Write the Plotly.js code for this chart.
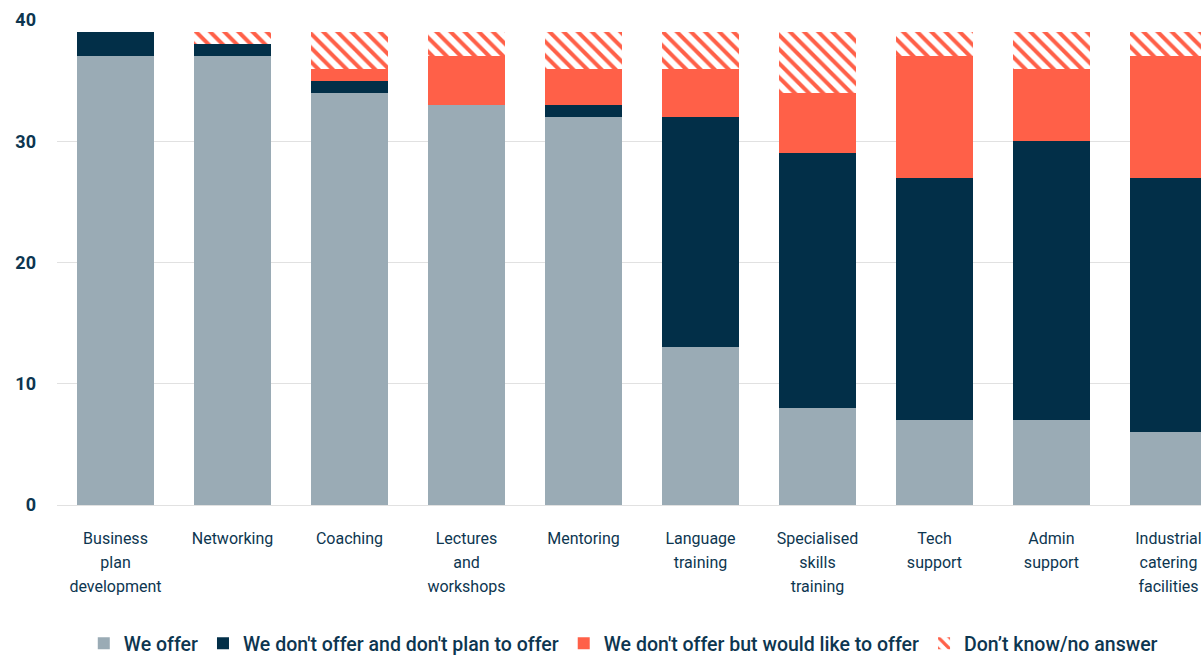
<!DOCTYPE html>
<html>
<head>
<meta charset="utf-8">
<script src="https://cdn.plot.ly/plotly-3.0.1.min.js"></script>
<style>
html,body{margin:0;padding:0;background:#fff;overflow:hidden;width:1201px;height:656px;}
#chart{width:1201px;height:663px;}
</style>
</head>
<body>
<div id="chart"></div>
<script>
// ---- data ----
const categories = ["Business<br>plan<br>development", "Networking", "Coaching", "Lectures<br>and<br>workshops", "Mentoring", "Language<br>training", "Specialised<br>skills<br>training", "Tech<br>support", "Admin<br>support", "Industrial<br>catering<br>facilities"];
const weOffer       = [37, 37, 34, 33, 32, 13, 8, 7, 7, 6];
const dontPlan      = [2, 1, 1, 0, 1, 19, 21, 20, 23, 21];
const wouldLike     = [0, 0, 1, 4, 3, 4, 5, 10, 6, 10];
const dontKnow      = [0, 1, 3, 2, 3, 3, 5, 2, 3, 2];
const seriesNames = ["We offer", "We don't offer and don't plan to offer", "We don't offer but would like to offer", "Don’t know/no answer"];
const yTicks = [0, 10, 20, 30, 40];

// ---- style ----
const GRAY = "#9aabb5", NAVY = "#022f48", CORAL = "#ff6048", TXT = "#0d3650";
const x = categories.map((_, i) => i);
const tickText = categories.map(c => c.split("<br>").map(s => '<span style="font-size:16px">' + s + '</span>').join("<br>"));

const base = {type: "bar", x: x, hoverinfo: "skip"};
const traces = [
  Object.assign({}, base, {name: seriesNames[0], y: weOffer, marker: {color: GRAY, line: {width: 0}}}),
  Object.assign({}, base, {name: seriesNames[1], y: dontPlan, marker: {color: NAVY, line: {width: 0}}}),
  Object.assign({}, base, {name: seriesNames[2], y: wouldLike, marker: {color: CORAL, line: {width: 0}}}),
  Object.assign({}, base, {name: seriesNames[3], y: dontKnow, marker: {color: "#ffffff", line: {width: 0},
    pattern: {shape: "\\", fgcolor: CORAL, bgcolor: "#ffffff", size: 10, solidity: 0.4, fillmode: "replace"}}})
];

const layout = {
  width: 1201, height: 663,
  margin: {l: 57, r: 0, t: 20, b: 158},
  barmode: "stack",
  bargap: 0.342,
  paper_bgcolor: "#ffffff", plot_bgcolor: "#ffffff",
  font: {family: "Roboto, 'Open Sans', sans-serif", color: TXT},
  xaxis: {
    range: [-0.5, 9.278], tickmode: "array", tickvals: x, ticktext: tickText,
    tickfont: {size: 18.5, color: TXT, family: "Roboto, sans-serif"},
    showgrid: false, zeroline: false, showline: false, ticks: "", ticklabelstandoff: 19,
    ticklabeloverflow: "allow", fixedrange: true
  },
  yaxis: {
    range: [0, 40], tickmode: "array", tickvals: yTicks, ticktext: yTicks.map(String),
    tickfont: {size: 18, color: TXT, family: "Roboto, sans-serif", weight: "bold"},
    showgrid: true, gridcolor: "#e1e1e1", gridwidth: 1, zeroline: true, zerolinecolor: "#e1e1e1", zerolinewidth: 1,
    showline: false, ticks: "", ticklabelstandoff: 20, fixedrange: true
  },
  showlegend: true,
  legend: {
    orientation: "h", x: 0.495, xanchor: "center", yref: "container", y: 0, yanchor: "bottom",
    font: {size: 19.5, color: TXT, family: "Roboto, sans-serif", weight: 500},
    traceorder: "normal", itemclick: false, itemdoubleclick: false
  }
};

Plotly.newPlot("chart", traces, layout, {staticPlot: true, displayModeBar: false});
</script>
</body>
</html>
